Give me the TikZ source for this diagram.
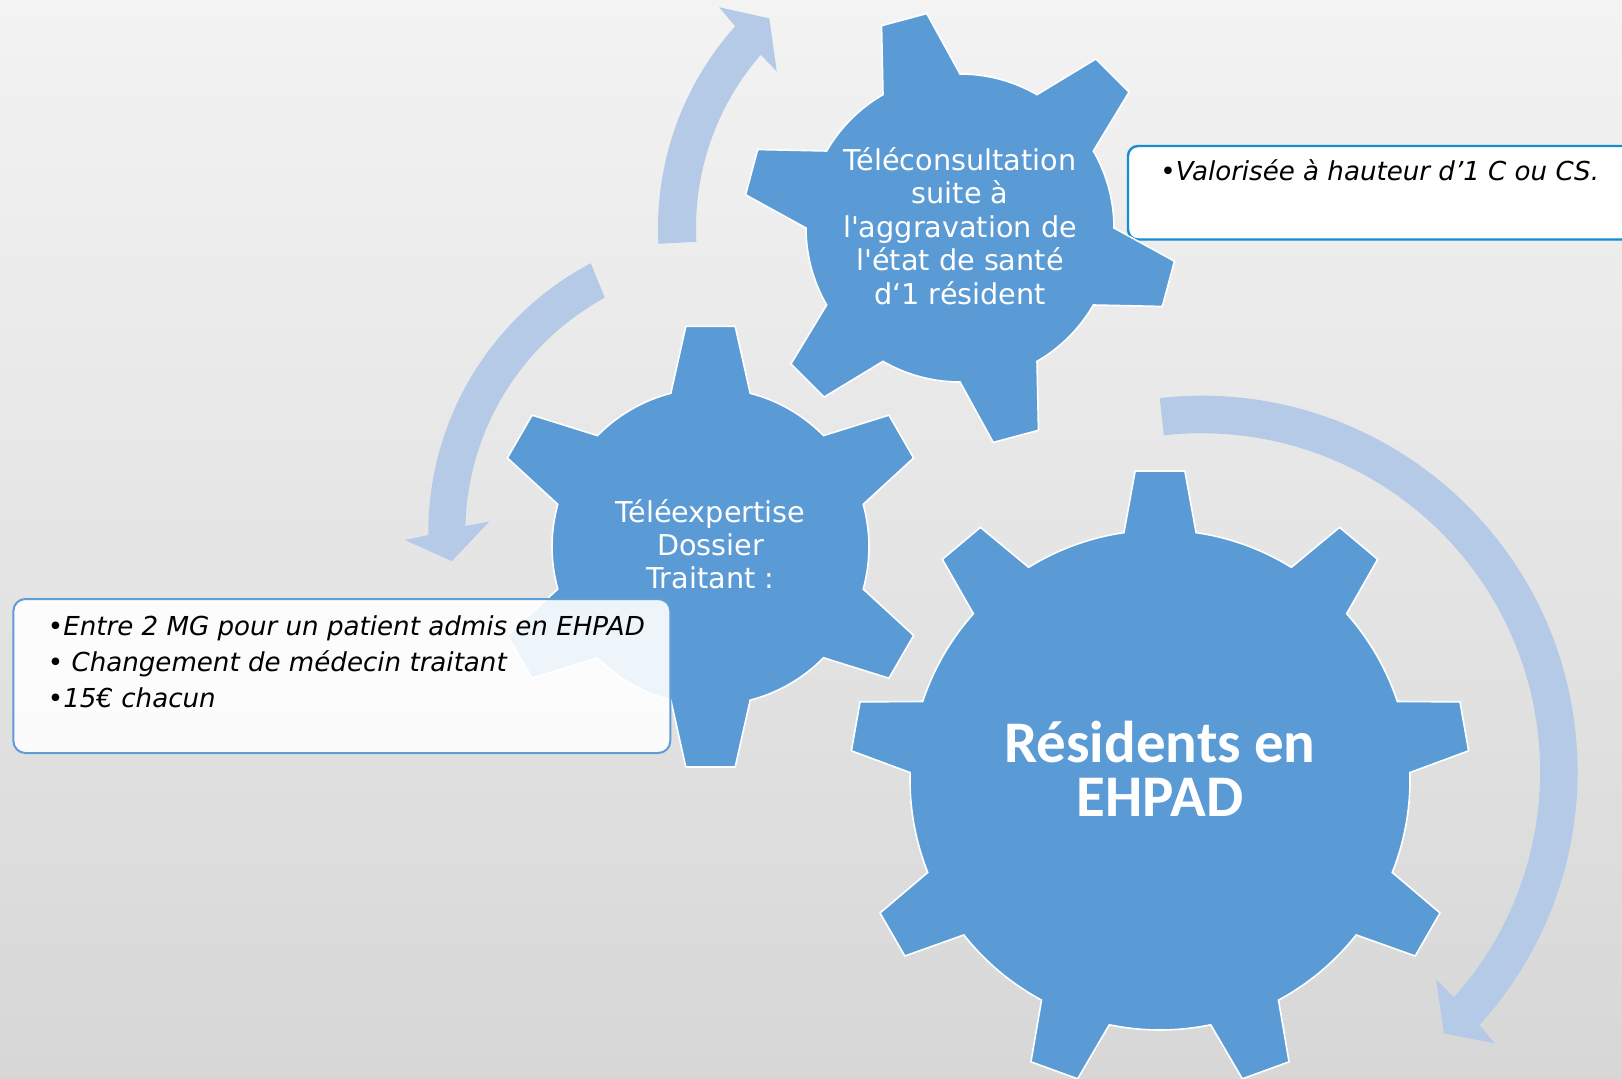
\documentclass[tikz,border=0pt]{standalone}
\usepackage{fontspec}
\newfontfamily\gearfont{DejaVu Sans}[Ligatures=TeXOff]
\newfontfamily\hubfont{Carlito}[Ligatures=TeXOff]
\definecolor{gearblue}{RGB}{91,155,213}
\definecolor{arrowblue}{RGB}{181,202,231}
\definecolor{mgline}{RGB}{98,156,214}
\definecolor{tarifline}{RGB}{24,140,208}
\definecolor{bgtop}{RGB}{243,243,243}
\definecolor{bgbottom}{RGB}{215,215,215}
% #1 centre, #2 last tooth index, #3 step, #4 phase, #5 body r, #6 tip r, #7 base half angle, #8 tip half angle
\newcommand{\drawgear}[8]{%
  \filldraw[gearstyle, shift={#1}] (#4-#7:#5)
    \foreach \k [evaluate=\k as \a using #4+\k*#3] in {0,...,#2} {
      -- (\a-#8:#6) -- (\a+#8:#6) -- (\a+#7:#5)
      arc[start angle=\a+#7, end angle=\a+#3-#7, radius=#5]
    } -- cycle;}

\begin{document}
\begin{tikzpicture}[x=0.5pt,y=0.5pt,
  gearstyle/.style={fill=gearblue, draw=white, line width=0.8pt},
  arrowband/.style={fill=arrowblue},
  gearlabel/.style={text=white, align=center, inner sep=0pt,
    font={\gearfont\fontsize{14.35}{16.7}\selectfont}},
  hublabel/.style={text=white, align=center, inner sep=0pt,
    font={\hubfont\bfseries\fontsize{29.5}{27}\selectfont}},
  notetext/.style={text=black, inner sep=0pt,
    font={\gearfont\itshape\fontsize{13.05}{18.1}\selectfont}}]
\clip (0,0) rectangle (1622,1078);
\shade[top color=bgtop, bottom color=bgbottom] (0,0) rectangle (1622,1078);

% circular arrows
\begin{scope}[shift={(960,850)}]
  \fill[arrowband] (183:302) arc[start angle=183, end angle=138.1, radius=302]
    -- (137.5:326.8) -- (132.3:283.4) -- (139.5:240.9) -- (139:264)
    arc[start angle=139, end angle=183, radius=264] -- cycle;
\end{scope}
\begin{scope}[shift={(732.8,545.4)}]
  \fill[arrowband] (117.8:304.5) arc[start angle=117.8, end angle=180.45, radius=304.5]
    -- (181.3:327.9) -- (185.8:282.5) -- (177.4:243.7) -- (178.6:267.5)
    arc[start angle=178.6, end angle=118.6, radius=267.5] -- cycle;
\end{scope}
\begin{scope}[shift={(1201.6,306.3)}]
  \fill[arrowband] (96.4:376) arc[start angle=96.4, end angle=-42.37, radius=376]
    -- (-42.8:399.8) -- (-47.2:356.6) -- (-41.5:313.1) -- (-41.8:338.5)
    arc[start angle=-41.8, end angle=96.4, radius=338.5] -- cycle;
\end{scope}

% note box on the right
\draw[tarifline, fill=white, line width=1.2pt, rounded corners=5pt] (1128,932) rectangle (1660,838.5);

% gears
\drawgear{(960,850)}{5}{60}{105}{154}{217}{15}{6.2}
\drawgear{(710.5,531.3)}{5}{60}{90}{158.5}{221.7}{14.5}{6.4}
\drawgear{(1160,298)}{8}{40}{90}{250}{310}{8.3}{4.6}

% note box on the left
\draw[mgline, fill=white, fill opacity=0.9, line width=1pt, rounded corners=6pt] (13.4,479) rectangle (670.3,325);

% texts
\node[gearlabel] (teleconsult) at (960,852) {Téléconsultation\\suite à\\l'aggravation de\\l'état de santé\\d‘1 résident};
\node[gearlabel] (teleexpert) at (710.5,533.7) {Téléexpertise\\Dossier\\Traitant :};
\node[hublabel] (residents) at (1160,309) {Résidents en\\EHPAD};
\node[notetext, anchor=base west] (tarifnote) at (1160,897) {•Valorisée à hauteur d’1 C ou CS.};
\node[notetext, anchor=north west, align=left] (mgnote) at (47.5,462.8)
  {•Entre 2 MG pour un patient admis en EHPAD\\• Changement de médecin traitant\\•15€ chacun};
\end{tikzpicture}
\end{document}
